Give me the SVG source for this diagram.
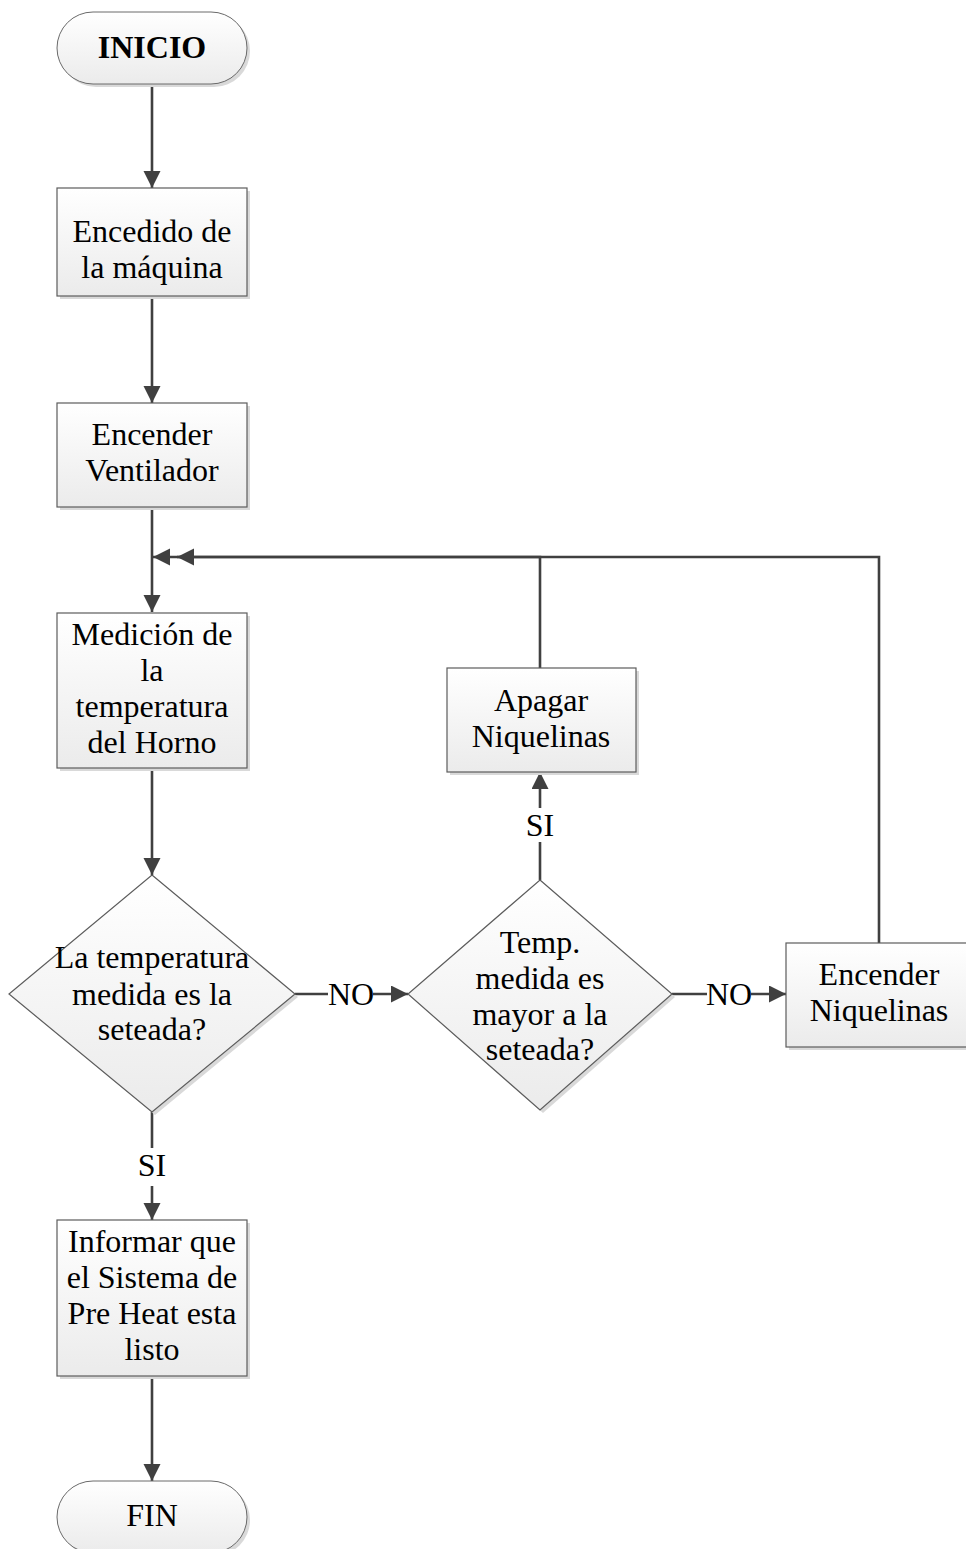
<svg xmlns="http://www.w3.org/2000/svg" width="966" height="1549" viewBox="0 0 966 1549">
<defs>
<linearGradient id="g" x1="0" y1="0" x2="0" y2="1">
<stop offset="0" stop-color="#ffffff"/>
<stop offset="1" stop-color="#ebebeb"/>
</linearGradient>
<marker id="ar" markerUnits="userSpaceOnUse" markerWidth="18" markerHeight="18" refX="17" refY="8.5" orient="auto">
<path d="M0,0 L17,8.5 L0,17 z" fill="#404040"/>
</marker>
</defs>
<style>
.sh{fill:#d9d9d9;stroke:none}
.nd{fill:url(#g);stroke:#5c5c5c;stroke-width:1.2}
.tm{fill:url(#g);stroke:#6a6a6a;stroke-width:1}
.t{font-family:"Liberation Serif","Times New Roman",serif;font-size:32px;fill:#000;text-anchor:middle}
.b{font-weight:bold}
.c{fill:none;stroke:#404040;stroke-width:2.6}
.ca{fill:none;stroke:#404040;stroke-width:2.6;marker-end:url(#ar)}
</style>
<rect width="966" height="1549" fill="#fff"/>

<g id="connectors">
<path class="ca" d="M152,84 V188"/>
<path class="ca" d="M152,296 V403"/>
<path class="ca" d="M152,507 V612"/>
<path class="ca" d="M540,668 V557 H153"/>
<path class="ca" d="M879,943 V557 H177"/>
<path class="ca" d="M152,768 V875"/>
<path class="c" d="M295,994 H328"/>
<path class="ca" d="M373,994 H408"/>
<path class="c" d="M672,994 H707"/>
<path class="ca" d="M751,994 H786"/>
<path class="c" d="M540,880 V842"/>
<path class="ca" d="M540,808 V772"/>
<path class="c" d="M152,1112 V1148"/>
<path class="ca" d="M152,1186 V1220"/>
<path class="ca" d="M152,1376 V1481"/>
<text class="t" x="351" y="1005">NO</text>
<text class="t" x="729" y="1005">NO</text>
<text class="t" x="540" y="836">SI</text>
<text class="t" x="152" y="1176">SI</text>
</g>

<g id="inicio">
<rect class="sh" x="60" y="15" width="190" height="72" rx="36" ry="36"/>
<rect class="tm" x="57" y="12" width="190" height="72" rx="36" ry="36"/>
<text class="t b" x="152" y="58">INICIO</text>
</g>

<g id="encendido">
<rect class="sh" x="60" y="191" width="190" height="108"/>
<rect class="nd" x="57" y="188" width="190" height="108"/>
<text class="t" x="152" y="242">Encedido de</text>
<text class="t" x="152" y="278">la máquina</text>
</g>

<g id="ventilador">
<rect class="sh" x="60" y="406" width="190" height="104"/>
<rect class="nd" x="57" y="403" width="190" height="104"/>
<text class="t" x="152" y="445">Encender</text>
<text class="t" x="152" y="481">Ventilador</text>
</g>

<g id="medicion">
<rect class="sh" x="60" y="616" width="190" height="155"/>
<rect class="nd" x="57" y="613" width="190" height="155"/>
<text class="t" x="152" y="645">Medición de</text>
<text class="t" x="152" y="681">la</text>
<text class="t" x="152" y="717">temperatura</text>
<text class="t" x="152" y="753">del Horno</text>
</g>

<g id="decision1">
<polygon class="sh" points="155,878 298,997 155,1115 12,997"/>
<polygon class="nd" points="152,875 295,994 152,1112 9,994"/>
<text class="t" x="152" y="968">La temperatura</text>
<text class="t" x="152" y="1005">medida es la</text>
<text class="t" x="152" y="1040">seteada?</text>
</g>

<g id="decision2">
<polygon class="sh" points="543,883 675,997 543,1113 411,997"/>
<polygon class="nd" points="540,880 672,994 540,1110 408,994"/>
<text class="t" x="540" y="953">Temp.</text>
<text class="t" x="540" y="989">medida es</text>
<text class="t" x="540" y="1025">mayor a la</text>
<text class="t" x="540" y="1060">seteada?</text>
</g>

<g id="apagar">
<rect class="sh" x="450" y="671" width="189" height="104"/>
<rect class="nd" x="447" y="668" width="189" height="104"/>
<text class="t" x="541" y="711">Apagar</text>
<text class="t" x="541" y="747">Niquelinas</text>
</g>

<g id="encender-niquelinas">
<rect class="sh" x="789" y="946" width="190" height="104"/>
<rect class="nd" x="786" y="943" width="190" height="104"/>
<text class="t" x="879" y="985">Encender</text>
<text class="t" x="879" y="1021">Niquelinas</text>
</g>

<g id="informar">
<rect class="sh" x="60" y="1223" width="190" height="156"/>
<rect class="nd" x="57" y="1220" width="190" height="156"/>
<text class="t" x="152" y="1252">Informar que</text>
<text class="t" x="152" y="1288">el Sistema de</text>
<text class="t" x="152" y="1324">Pre Heat esta</text>
<text class="t" x="152" y="1360">listo</text>
</g>

<g id="fin">
<rect class="sh" x="60" y="1484" width="190" height="72" rx="36" ry="36"/>
<rect class="tm" x="57" y="1481" width="190" height="72" rx="36" ry="36"/>
<text class="t" x="152" y="1526">FIN</text>
</g>
</svg>
